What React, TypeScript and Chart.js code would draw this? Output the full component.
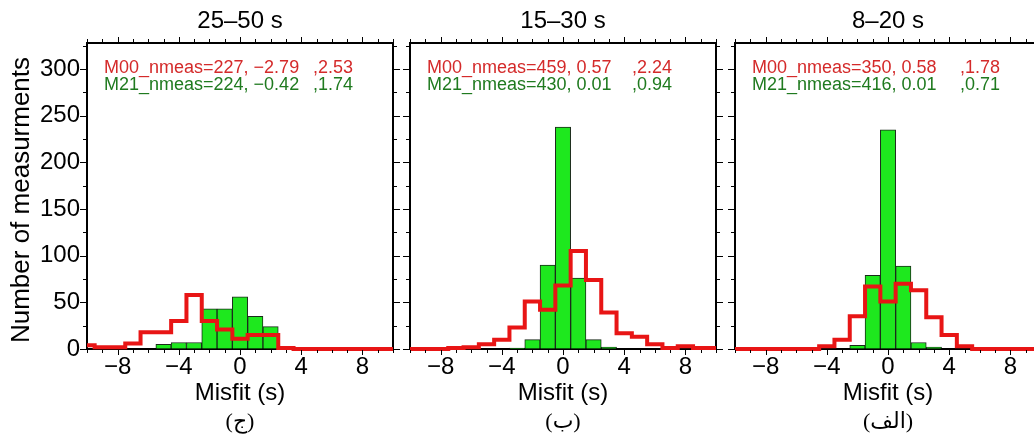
import React, { useEffect, useRef } from 'react';
import { Chart, registerables } from 'chart.js';

Chart.register(...registerables);

// ---- data ----
const binCenters = [-10, -9, -8, -7, -6, -5, -4, -3, -2, -1, 0, 1, 2, 3, 4, 5, 6, 7, 8, 9, 10];
const xTickLabels = [-8, -4, 0, 4, 8];
const yTickLabels = [0, 50, 100, 150, 200, 250, 300];

const panelTitles = ['25–50 s', '15–30 s', '8–20 s'];
const panelTags = ['(ج)', '(ب)', '(الف)'];

const m21Period25to50 = [0, 0, 0, 0, 0, 5, 7, 7, 43, 43, 56, 35, 24, 0, 0, 0, 0, 0, 0, 0, 0];
const m00Period25to50 = [4, 2, 2, 6, 18, 18, 30, 58, 30, 21, 11, 15, 15, 1, 0, 0, 0, 0, 0, 0, 0];
const m21Period15to30 = [0, 0, 0, 0, 0, 0, 0, 1, 10, 90, 238, 76, 10, 2, 0, 0, 0, 0, 0, 0, 0];
const m00Period15to30 = [0, 0, 0, 1, 2, 5, 10, 23, 51, 42, 68, 105, 74, 39, 17, 13, 5, 1, 3, 1, 1];
const m21Period8to20 = [0, 0, 0, 0, 0, 0, 0, 0, 4, 79, 235, 89, 7, 2, 0, 0, 0, 0, 0, 0, 0];
const m00Period8to20 = [0, 0, 0, 0, 0, 0, 3, 10, 35, 67, 51, 70, 63, 34, 15, 3, 0, 0, 0, 0, 0];

const m00Counts = [227, 459, 350];
const m00Means = ['−2.79', '0.57', '0.58'];
const m00Stds = ['2.53', '2.24', '1.78'];
const m21Counts = [224, 430, 416];
const m21Means = ['−0.42', '0.01', '0.01'];
const m21Stds = ['1.74', '0.94', '0.71'];

const m21Series = [m21Period25to50, m21Period15to30, m21Period8to20];
const m00Series = [m00Period25to50, m00Period15to30, m00Period8to20];

// ---- layout ----
const PLOT_W = 306;
const PLOT_TOP = 43;
const PLOT_BOTTOM = 349;
const H = 438;
const panelLefts = [87, 410, 735];
const leftAxisW = [87, 8, 8];
const rightAxisW = 8;
const col2Offsets = [226, 222, 225];

const RED = '#e81515';
const RED_TEXT = '#d42a2a';
const GREEN_TEXT = '#1f7a1f';
const GREEN_FILL = '#1ee81e';
const SANS = "'Liberation Sans', Arial, Helvetica, sans-serif";

const fmtMinus = (v: number) => (v < 0 ? '−' + Math.abs(v) : String(v));

function Panel({ idx }: { idx: number }) {
  const ref = useRef<HTMLCanvasElement | null>(null);
  const width = leftAxisW[idx] + PLOT_W + rightAxisW;
  const left = panelLefts[idx] - leftAxisW[idx];

  useEffect(() => {
    if (!ref.current) return;

    // tick marks (major longer than minor), placed through the chart's scales
    const tickPlugin = {
      id: 'frameTicks',
      afterDraw(chart: any) {
        const { ctx } = chart;
        const { left: l, right: r, top: t, bottom: b } = chart.chartArea;
        const xs = chart.scales.x;
        const ys = chart.scales.y;
        ctx.save();
        ctx.strokeStyle = '#000';
        ctx.lineWidth = 1;
        ctx.beginPath();
        xs.ticks.forEach((tk: any) => {
          const px = Math.round(xs.getPixelForValue(tk.value)) + 0.5;
          const len = tk.value % 4 === 0 ? 5 : 3;
          ctx.moveTo(px, b + 1);
          ctx.lineTo(px, b + 1 + len);
          ctx.moveTo(px, t - 1);
          ctx.lineTo(px, t - 1 - len);
        });
        ys.ticks.forEach((tk: any) => {
          const py = Math.round(ys.getPixelForValue(tk.value)) + 0.5;
          const len = tk.value % 50 === 0 ? 6 : 3;
          ctx.moveTo(l - 1, py);
          ctx.lineTo(l - 1 - len, py);
          ctx.moveTo(r + 1, py);
          ctx.lineTo(r + 1 + len, py);
        });
        ctx.stroke();
        ctx.restore();
      },
    };

    const textPlugin = {
      id: 'panelText',
      afterDraw(chart: any) {
        const { ctx } = chart;
        const { left: l, right: r } = chart.chartArea;
        const cx = (l + r) / 2;
        ctx.save();
        ctx.fillStyle = '#000';
        ctx.textAlign = 'center';
        ctx.textBaseline = 'alphabetic';
        ctx.font = `24px ${SANS}`;
        ctx.fillText(panelTitles[idx], cx, 28);
        ctx.fillText('Misfit (s)', cx, 400);
        ctx.font = "22px 'Liberation Serif', 'DejaVu Sans', serif";
        ctx.fillText(panelTags[idx], cx, 428);

        ctx.textAlign = 'left';
        ctx.font = `18px ${SANS}`;
        ctx.fillStyle = RED_TEXT;
        ctx.fillText(`M00_nmeas=${m00Counts[idx]}, ${m00Means[idx]}`, l + 17, 73);
        ctx.fillText(`,${m00Stds[idx]}`, l + col2Offsets[idx], 73);
        ctx.fillStyle = GREEN_TEXT;
        ctx.fillText(`M21_nmeas=${m21Counts[idx]}, ${m21Means[idx]}`, l + 17, 90);
        ctx.fillText(`,${m21Stds[idx]}`, l + col2Offsets[idx], 90);

        if (idx === 0) {
          ctx.fillStyle = '#000';
          ctx.font = `26px ${SANS}`;
          ctx.translate(22, 200);
          ctx.rotate(-Math.PI / 2);
          ctx.textAlign = 'center';
          ctx.textBaseline = 'middle';
          ctx.fillText('Number of measurments', 0, 0);
        }
        ctx.restore();
      },
    };

    const gridCommon = {
      display: true,
      drawOnChartArea: false,
      drawTicks: true,
      tickLength: 5,
      color: '#000',
      tickColor: 'rgba(0,0,0,0)',
      lineWidth: 1,
      offset: false,
    };
    const borderCommon = { display: true, color: '#000', width: 2 };

    const chart = new Chart(ref.current, {
      type: 'bar',
      data: {
        datasets: [
          {
            type: 'line',
            label: 'M00',
            data: binCenters.map((x, i) => ({ x, y: m00Series[idx][i] })),
            borderColor: RED,
            borderWidth: 4,
            pointRadius: 0,
            stepped: 'middle',
            fill: false,
            clip: false,
            borderJoinStyle: 'miter',
            order: 0,
            xAxisID: 'x',
            yAxisID: 'y',
          } as any,
          {
            type: 'bar',
            label: 'M21',
            data: binCenters.map((x, i) => ({ x, y: m21Series[idx][i] === 0 ? null : m21Series[idx][i] })),
            backgroundColor: GREEN_FILL,
            borderColor: '#1a2a1a',
            borderWidth: 1,
            barPercentage: 1,
            categoryPercentage: 1,
            order: 1,
            xAxisID: 'x',
            yAxisID: 'y',
          } as any,
        ],
      },
      options: {
        animation: false,
        responsive: false,
        maintainAspectRatio: false,
        layout: { padding: 0 },
        plugins: { legend: { display: false }, tooltip: { enabled: false }, title: { display: false } },
        scales: {
          x: {
            type: 'linear',
            position: 'bottom',
            min: -10,
            max: 10,
            offset: false,
            grid: gridCommon,
            border: borderCommon,
            ticks: {
              stepSize: 1,
              autoSkip: false,
              maxRotation: 0,
              includeBounds: false,
              padding: 1,
              color: '#000',
              font: { family: SANS, size: 24, lineHeight: 1 },
              callback: (v: any) => (xTickLabels.includes(Number(v)) ? fmtMinus(Number(v)) : ''),
            },
            afterFit: (s: any) => { s.height = H - PLOT_BOTTOM; },
          },
          x2: {
            type: 'linear',
            position: 'top',
            min: -10,
            max: 10,
            offset: false,
            grid: gridCommon,
            border: borderCommon,
            ticks: { display: false, stepSize: 1, includeBounds: false },
            afterFit: (s: any) => { s.height = PLOT_TOP; },
          },
          y: {
            type: 'linear',
            position: 'left',
            min: 0,
            max: 328,
            grid: gridCommon,
            border: borderCommon,
            ticks: {
              display: idx === 0,
              stepSize: 25,
              autoSkip: false,
              includeBounds: false,
              padding: 2,
              color: '#000',
              font: { family: SANS, size: 24, lineHeight: 1 },
              callback: (v: any) => (yTickLabels.includes(Number(v)) ? String(v) : ''),
            },
            afterFit: (s: any) => { s.width = leftAxisW[idx]; },
          },
          y2: {
            type: 'linear',
            position: 'right',
            min: 0,
            max: 328,
            grid: gridCommon,
            border: borderCommon,
            ticks: { display: false, stepSize: 25, includeBounds: false },
            afterFit: (s: any) => { s.width = rightAxisW; },
          },
        },
      } as any,
      plugins: [tickPlugin, textPlugin],
    });
    return () => chart.destroy();
  }, [idx]);

  return (
    <canvas
      ref={ref}
      width={width}
      height={H}
      style={{ position: 'absolute', left, top: 0, width, height: H }}
    />
  );
}

export default function App() {
  return (
    <div
      style={{
        position: 'absolute',
        left: 0,
        top: 0,
        width: 1034,
        height: 438,
        overflow: 'hidden',
        background: '#fff',
      }}
    >
      {[0, 1, 2].map((i) => (
        <Panel key={i} idx={i} />
      ))}
    </div>
  );
}
